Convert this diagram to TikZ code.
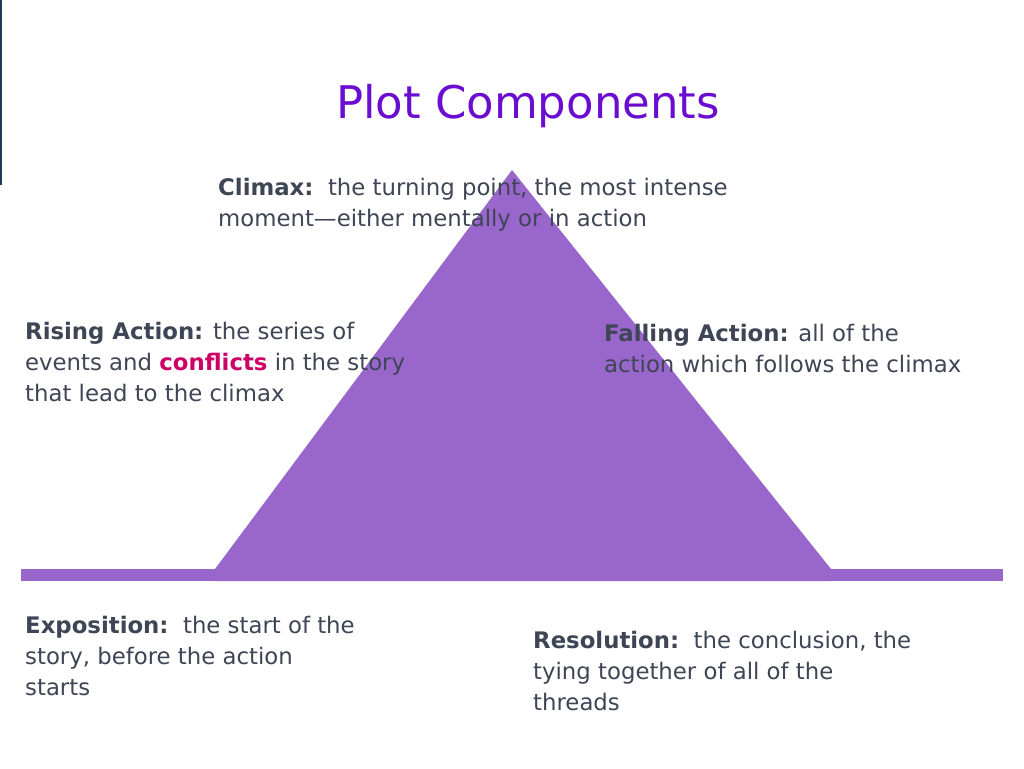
\documentclass[tikz,border=0pt]{standalone}
\usepackage{fontspec}
\setmainfont{DejaVu Sans}
\definecolor{plotpurple}{HTML}{9966CC}
\definecolor{titlepurple}{HTML}{6A0DD0}
\definecolor{textgray}{HTML}{3E4555}
\definecolor{conflictred}{HTML}{CC0066}
\definecolor{edgenavy}{HTML}{1F3A5A}
\tikzset{
  label text/.style={anchor=north west, inner sep=0pt, align=left, text=textgray,
    font=\fontsize{22.8}{30.8}\selectfont},
  term/.style={font=\bfseries}
}
\begin{document}
\begin{tikzpicture}[x=1pt,y=-1pt]
				\useasboundingbox (0,0) rectangle (1024,768);
				\fill[white] (0,0) rectangle (1024,768);
				\fill[edgenavy] (0,0) rectangle (2,185);
				% the plot line and the pyramid
				\fill[plotpurple] (21,569) rectangle (1003,581);
				\fill[plotpurple] (215,581) -- (215,569) -- (512,170) -- (831,569) -- (831,581) -- cycle;
				\node (title) [text=titlepurple, font=\fontsize{45}{50}\selectfont] at (528,106) {Plot Components};
				\node (climax) [label text] at (218,178) {\textbf{Climax:}\ \ the turning point, the most intense\\moment---either mentally or in action};
				\node (rising) [label text] at (25,322) {\textbf{Rising Action:} the series of\\events and \textbf{\textcolor{conflictred}{conflicts}} in the story\\that lead to the climax};
				\node (falling) [label text] at (604,324) {\textbf{Falling Action:} all of the\\action which follows the climax};
				\node (exposition) [label text] at (25,616) {\textbf{Exposition:}\ \ the start of the\\story, before the action\\starts};
				\node (resolution) [label text] at (533,631) {\textbf{Resolution:}\ \ the conclusion, the\\tying together of all of the\\threads};
			\end{tikzpicture}
\end{document}
